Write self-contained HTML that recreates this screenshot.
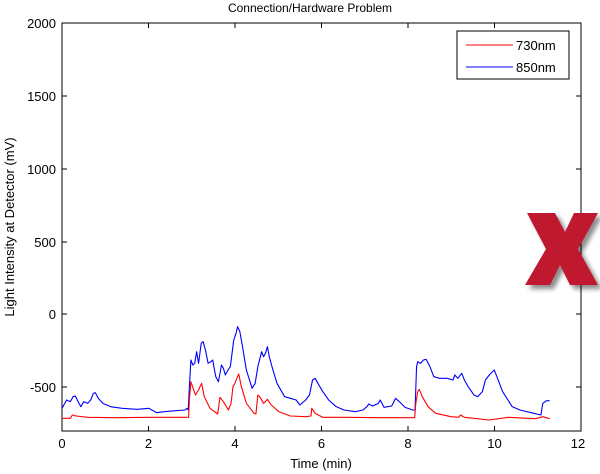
<!DOCTYPE html>
<html><head><meta charset="utf-8"><style>
body{margin:0;background:#fff}
svg{display:block;font-family:"Liberation Sans",Arial,sans-serif}
</style></head><body>
<svg width="600" height="474" viewBox="0 0 600 474">
<rect width="600" height="474" fill="#fff"/>
<text x="310" y="12" font-size="12" text-anchor="middle">Connection/Hardware Problem</text>
<rect x="62" y="23" width="519" height="408" fill="none" stroke="#000" stroke-width="1"/>
<g stroke="#000" stroke-width="1">
<line x1="62" y1="23" x2="67" y2="23"/><line x1="576" y1="23" x2="581" y2="23"/>
<line x1="62" y1="96" x2="67" y2="96"/><line x1="576" y1="96" x2="581" y2="96"/>
<line x1="62" y1="169" x2="67" y2="169"/><line x1="576" y1="169" x2="581" y2="169"/>
<line x1="62" y1="242" x2="67" y2="242"/><line x1="576" y1="242" x2="581" y2="242"/>
<line x1="62" y1="314" x2="67" y2="314"/><line x1="576" y1="314" x2="581" y2="314"/>
<line x1="62" y1="387" x2="67" y2="387"/><line x1="576" y1="387" x2="581" y2="387"/>
<line x1="148.5" y1="431" x2="148.5" y2="426"/><line x1="148.5" y1="23" x2="148.5" y2="28"/>
<line x1="235" y1="431" x2="235" y2="426"/><line x1="235" y1="23" x2="235" y2="28"/>
<line x1="321.5" y1="431" x2="321.5" y2="426"/><line x1="321.5" y1="23" x2="321.5" y2="28"/>
<line x1="408" y1="431" x2="408" y2="426"/><line x1="408" y1="23" x2="408" y2="28"/>
<line x1="494.5" y1="431" x2="494.5" y2="426"/><line x1="494.5" y1="23" x2="494.5" y2="28"/>
</g>
<g font-size="13" text-anchor="end">
<text x="56" y="28">2000</text><text x="56" y="101">1500</text><text x="56" y="174">1000</text>
<text x="56" y="247">500</text><text x="56" y="319">0</text><text x="56" y="392">-500</text>
</g>
<g font-size="13" text-anchor="middle">
<text x="62" y="448">0</text><text x="148.5" y="448">2</text><text x="235" y="448">4</text>
<text x="321.5" y="448">6</text><text x="408" y="448">8</text><text x="494.5" y="448">10</text><text x="578" y="448">12</text>
</g>
<text x="321" y="468" font-size="13" text-anchor="middle">Time (min)</text>
<text transform="translate(14,227) rotate(-90)" font-size="13" text-anchor="middle">Light Intensity at Detector (mV)</text>
<g transform="translate(-0.35,300) scale(0.3825,0.33333)" fill="none" stroke-width="1.1" stroke-linejoin="round">
<polyline vector-effect="non-scaling-stroke" stroke="#0000ff" points="163,325 175,300 185,305 192,290 198,288 205,305 212,320 220,305 230,310 238,300 245,280 250,278 258,295 270,310 290,320 320,325 360,328 390,325 410,338 430,335 460,332 485,330 490,325 493,330 496,260 500,180 505,195 510,190 515,155 520,190 527,130 532,125 538,150 545,190 552,185 557,180 565,230 572,245 580,195 585,205 590,225 597,210 603,200 607,165 612,120 618,100 622,80 628,95 635,140 645,210 660,265 668,250 675,200 685,155 690,170 695,160 700,140 705,170 712,200 725,250 745,290 760,295 775,300 785,315 800,300 810,285 818,240 825,235 832,250 845,275 860,300 880,320 900,330 930,335 950,330 960,320 965,312 975,318 990,310 995,300 1005,322 1025,318 1035,295 1045,305 1060,322 1080,330 1086,330 1090,200 1093,185 1100,190 1108,180 1115,178 1125,200 1135,230 1150,235 1170,235 1185,240 1190,225 1198,235 1208,220 1215,240 1225,260 1240,285 1250,290 1262,275 1270,240 1280,225 1293,210 1300,230 1315,275 1340,320 1360,330 1390,338 1415,345 1420,310 1430,302 1438,302"/>
<polyline vector-effect="non-scaling-stroke" stroke="#ff0000" points="163,355 185,355 190,345 200,348 230,352 300,353 400,352 494,352 496,300 500,245 505,262 512,285 520,270 528,250 535,290 550,325 570,342 576,292 585,305 598,330 605,310 610,260 615,250 620,235 625,222 632,260 645,310 665,340 670,342 675,285 680,290 690,310 700,298 710,315 730,335 760,348 800,350 814,348 816,325 825,340 845,352 900,352 1000,353 1085,353 1088,310 1093,275 1097,268 1105,290 1120,320 1140,340 1180,350 1200,352 1205,345 1215,352 1280,360 1330,352 1400,356 1420,350 1438,356"/>
</g>
<rect x="457" y="31" width="112" height="48" fill="#fff" stroke="#000" stroke-width="1"/>
<line x1="466" y1="45" x2="513" y2="45" stroke="#ff0000"/>
<line x1="466" y1="67" x2="513" y2="67" stroke="#0000ff"/>
<text x="516" y="50" font-size="13">730nm</text>
<text x="516" y="72" font-size="13">850nm</text>
<defs><filter id="sh" x="-20%" y="-20%" width="150%" height="150%"><feGaussianBlur stdDeviation="2.5"/></filter></defs>
<polygon points="531,217 559,217 569,236 578,217 602,217 582,253 602,289 574,289 564,269 554,289 529,289 550,253" fill="#000" opacity="0.45" filter="url(#sh)"/>
<polygon points="527,213 555,213 565,232 574,213 598,213 578,249 598,285 570,285 560,265 550,285 525,285 546,249" fill="#c0182e"/>
</svg>
</body></html>
